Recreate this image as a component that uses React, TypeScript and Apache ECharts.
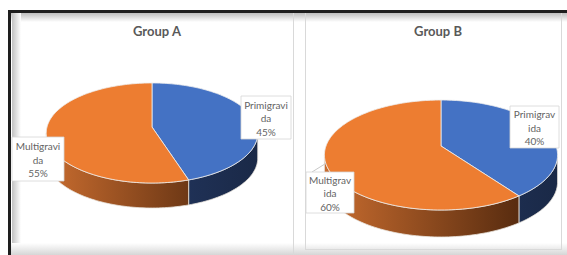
import React, { useEffect, useRef } from "react";
import * as echarts from "echarts";

const categories = ["Primigravida", "Multigravida"];
const groupTitles = ["Group A", "Group B"];
const groupAValues = [45, 55];
const groupBValues = [40, 60];
const groupALabelLines = [["Primigravi", "da"], ["Multigravi", "da"]];
const groupBLabelLines = [["Primigrav", "ida"], ["Multigrav", "ida"]];

const topColors = ["#4472C4", "#ED7D31"];

// layout (positions / sizes only)
const pieLayouts = [
  { cx: 152, cy: 127, rx: 105, ry: 49.3, k: 0.12, depth: 25, titleX: 152, titleY: 19 },
  { cx: 441, cy: 146, rx: 115, ry: 53.5, k: 0.164, depth: 27, titleX: 433, titleY: 19 },
];
// label box offsets relative to pie centre: [dx, dy, w, h, leader]
const labelBoxes = [
  [
    [89, -31, 50, 43, false],
    [-140, 10, 52, 44, false],
  ],
  [
    [69, -40, 49, 42, false],
    [-135, 26, 48, 41, true],
  ],
];

function makeSeries(values: number[], lines: string[][], pieIndex: number) {
  const L = pieLayouts[pieIndex];
  const total = values.reduce((a, b) => a + b, 0);
  const proj = (t: number, dz = 0) => {
    const X = Math.sin(t);
    const Z = Math.cos(t);
    const p = 1 / (1 + L.k * Z);
    return [L.cx + L.rx * X * p, L.cy - L.ry * Z * p + dz];
  };
  const tR = Math.acos(-L.k);
  const tL = 2 * Math.PI - tR;
  return {
    type: "custom",
    coordinateSystem: "none",
    silent: true,
    data: values.map((v, i) => ({ value: [v, i], name: categories[i] })),
    renderItem: (params: any, api: any) => {
      const i = params.dataIndex;
      const v = api.value(0);
      let before = 0;
      for (let j = 0; j < i; j++) before += values[j];
      const a0 = (before / total) * 2 * Math.PI;
      const a1 = ((before + v) / total) * 2 * Math.PI;
      const children: any[] = [];
      // side
      const s0 = Math.max(a0, tR);
      const s1 = Math.min(a1, tL);
      if (s1 > s0) {
        const n = Math.max(6, Math.ceil((s1 - s0) / (Math.PI / 120)));
        const topPts: number[][] = [];
        const botPts: number[][] = [];
        for (let j = 0; j <= n; j++) {
          const t = s0 + ((s1 - s0) * j) / n;
          topPts.push(proj(t));
          botPts.push(proj(t, L.depth));
        }
        const pts = topPts.concat(botPts.reverse());
        const fill =
          i === 0
            ? new echarts.graphic.LinearGradient(
                L.cx, 0, L.cx + L.rx, 0,
                [
                  { offset: 0, color: "#22355e" },
                  { offset: 1, color: "#1a2947" },
                ],
                true
              )
            : new echarts.graphic.LinearGradient(
                L.cx - L.rx, 0, L.cx + L.rx * 0.65, 0,
                [
                  { offset: 0, color: "#c86c2f" },
                  { offset: 1, color: "#5a2d10" },
                ],
                true
              );
        children.push({
          type: "polygon",
          shape: { points: pts },
          style: { fill, stroke: "#e9e3dc", lineWidth: 0.8 },
          z2: 1,
        });
      }
      // top face
      const n = Math.max(8, Math.ceil((a1 - a0) / (Math.PI / 120)));
      const face: number[][] = [[L.cx, L.cy]];
      for (let j = 0; j <= n; j++) face.push(proj(a0 + ((a1 - a0) * j) / n));
      children.push({
        type: "polygon",
        shape: { points: face },
        style: { fill: topColors[i], stroke: "#eeeeee", lineWidth: 0.8 },
        z2: 2,
      });
      // label
      const b = labelBoxes[pieIndex][i] as any[];
      const bx = L.cx + b[0];
      const by = L.cy + b[1];
      const bw = b[2];
      const bh = b[3];
      if (b[4]) {
        const mid = proj((a0 + a1) / 2);
        children.push({
          type: "line",
          shape: { x1: mid[0], y1: mid[1], x2: bx + 6, y2: by },
          style: { stroke: "#c8c8c8", lineWidth: 1 },
          z2: 10,
        });
      }
      children.push({
        type: "rect",
        shape: { x: bx, y: by, width: bw, height: bh },
        style: { fill: "#ffffff", stroke: "#d6d6d6", lineWidth: 0.8 },
        z2: 11,
      });
      const pct = Math.round((v / total) * 100);
      children.push({
        type: "text",
        x: bx + bw / 2,
        y: by + bh / 2 + 0.5,
        style: {
          text: `${lines[i][0]}\n${lines[i][1]}\n${pct}%`,
          align: "center",
          verticalAlign: "middle",
          fontFamily: "Lato",
          fontSize: 10,
          lineHeight: 13.5,
          fill: "#636363",
        },
        z2: 12,
      });
      return { type: "group", children };
    },
  };
}

export default function App() {
  const ref = useRef<HTMLDivElement>(null);
  useEffect(() => {
    const chart = echarts.init(ref.current!, null, { renderer: "svg" });
    const option: any = {
      animation: false,
      backgroundColor: "#ffffff",
      title: groupTitles.map((t, i) => ({
        text: t,
        left: pieLayouts[i].titleX,
        top: pieLayouts[i].titleY,
        textAlign: "center",
        textStyle: {
          fontFamily: "Lato",
          fontWeight: "bold",
          fontSize: 13,
          color: "#595959",
        },
      })),
      graphic: [
        {
          type: "rect",
          shape: { x: 11, y: 13, width: 556, height: 9 },
          style: {
            fill: new echarts.graphic.LinearGradient(0, 0, 0, 1, [
              { offset: 0, color: "#bdbdbd" },
              { offset: 1, color: "#ffffff" },
            ]),
          },
        },
        {
          type: "rect",
          shape: { x: 12, y: 13, width: 9, height: 242 },
          style: {
            fill: new echarts.graphic.LinearGradient(0, 0, 1, 0, [
              { offset: 0, color: "#c2c2c2" },
              { offset: 1, color: "#ffffff" },
            ]),
          },
        },
        {
          type: "rect",
          shape: { x: 11, y: 243, width: 556, height: 12 },
          style: {
            fill: new echarts.graphic.LinearGradient(0, 0, 0, 1, [
              { offset: 0, color: "#ffffff" },
              { offset: 1, color: "#d6d6d6" },
            ]),
          },
        },
        { type: "rect", shape: { x: 8, y: 10, width: 559, height: 3 }, style: { fill: "#1e1e1e" } },
        { type: "rect", shape: { x: 8, y: 10, width: 3, height: 245 }, style: { fill: "#1e1e1e" } },
        { type: "line", shape: { x1: 293.5, y1: 13, x2: 293.5, y2: 255 }, style: { stroke: "#d9d9d9", lineWidth: 1 } },
        { type: "line", shape: { x1: 305.5, y1: 13, x2: 305.5, y2: 250 }, style: { stroke: "#d9d9d9", lineWidth: 1 } },
        { type: "line", shape: { x1: 561.5, y1: 13, x2: 561.5, y2: 250 }, style: { stroke: "#d9d9d9", lineWidth: 1 } },
        { type: "line", shape: { x1: 305, y1: 249.5, x2: 562, y2: 249.5 }, style: { stroke: "#d9d9d9", lineWidth: 1 } },
      ],
      series: [
        makeSeries(groupAValues, groupALabelLines, 0),
        makeSeries(groupBValues, groupBLabelLines, 1),
      ],
    };
    chart.setOption(option);
    return () => chart.dispose();
  }, []);
  return (
    <div
      ref={ref}
      style={{ position: "absolute", left: 0, top: 0, width: 567, height: 255 }}
    />
  );
}
